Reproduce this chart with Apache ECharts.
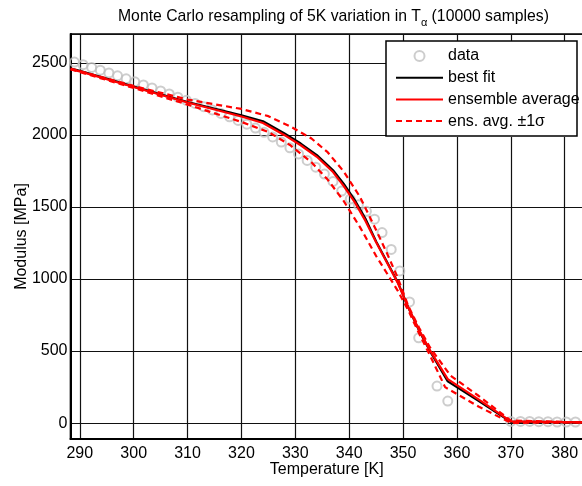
<!DOCTYPE html>
<html>
<head>
<meta charset="utf-8">
<script src="https://cdn.jsdelivr.net/npm/echarts@6/dist/echarts.min.js"></script>
<style>
  html, body { margin: 0; padding: 0; background: #fff; }
  #chart { width: 582px; height: 486px; }
</style>
</head>
<body>
<div id="chart"></div>
<script>
// measured modulus (circles)
var dataT = [289.0, 290.6, 292.2, 293.8, 295.4, 297.0, 298.6, 300.2, 301.8, 303.4,
             305.0, 306.6, 308.2, 309.8, 311.4, 313.0, 314.6, 316.2, 317.8, 319.4,
             321.0, 322.6, 324.2, 325.8, 327.4, 329.0, 330.6, 332.2, 333.8, 335.4,
             337.0, 338.6, 340.2, 341.7, 343.2, 344.7, 346.1, 347.8, 349.4, 351.2,
             352.9, 356.3, 358.3, 370.0, 371.8, 373.5, 375.2, 376.9, 378.6, 380.3, 382.0];
var dataV = [2505, 2487, 2468, 2449, 2430, 2410, 2389, 2368, 2347, 2326,
             2305, 2284, 2262, 2240, 2218, 2196, 2173, 2149, 2125, 2100,
             2074, 2047, 2018, 1986, 1950, 1910, 1868, 1823, 1776, 1728,
             1677, 1610, 1555, 1515, 1470, 1415, 1322, 1205, 1056, 841,
             592, 257, 153, 12, 12, 12, 10, 10, 8, 8, 8];

// best fit and ensemble average
var lineT = [288.3, 290, 300, 310, 320, 324, 328, 331, 334, 337, 339, 341, 343,
             345, 347, 349, 351, 353, 355, 358.3, 364, 370, 383.4];
var fitV  = [2460, 2445, 2335, 2228, 2135, 2095, 2010, 1940, 1860, 1755, 1660, 1550, 1420,
             1260, 1120, 980, 800, 640, 500, 290, 155, 10, 5];
var avgV  = [2455, 2441, 2332, 2225, 2128, 2082, 1998, 1928, 1848, 1742, 1645, 1535, 1405,
             1255, 1115, 975, 800, 645, 505, 305, 165, 12, 5];

// ensemble average +/- 1 sigma
var upT = [288.3, 300, 310, 320, 325, 329, 333, 336, 339, 342, 345, 347, 349, 351, 353, 355, 358.8, 364, 370, 383.4];
var upV = [2460, 2340, 2245, 2180, 2130, 2060, 1975, 1880, 1745, 1570, 1340, 1180, 1010, 810, 660, 525, 330, 190, 18, 5];
var loT = [288.3, 300, 310, 320, 325, 329, 333, 336, 339, 342, 345, 347, 349, 351, 353, 355, 357.8, 364, 370, 383.4];
var loV = [2455, 2325, 2210, 2090, 2020, 1930, 1810, 1690, 1540, 1360, 1160, 1040, 920, 780, 620, 470, 250, 115, 2, 5];

var legendNames = ['data', 'best fit', 'ensemble average', 'ens. avg. \u00b11\u03c3'];

function pairs(xs, ys){
    var out = [];
    for (var i = 0; i < xs.length; i++) out.push([xs[i], ys[i]]);
    return out;
}

var font = '"Liberation Sans", Arial, Helvetica, sans-serif';
var noDot = {color: 'rgba(0,0,0,0)', borderWidth: 0};
var myChart = echarts.init(document.getElementById('chart'), null, {renderer: 'canvas'});

var option = {
    animation: false,
    backgroundColor: '#fff',
    textStyle: {fontFamily: font, color: '#000'},
    title: {
        text: '{n|Monte Carlo resampling of 5K variation in T}{s|\u03b1}{n| (10000 samples)}',
        left: 113,
        top: 1,
        textStyle: {
            fontWeight: 'normal',
            rich: {
                n: {fontSize: 15.75, fontFamily: font, fontWeight: 'normal', color: '#000', lineHeight: 22, verticalAlign: 'middle'},
                s: {fontSize: 11, fontFamily: font, fontWeight: 'normal', color: '#000', lineHeight: 22, verticalAlign: 'bottom'}
            }
        }
    },
    legend: {
        orient: 'vertical',
        left: 386,
        top: 41,
        backgroundColor: '#fff',
        borderWidth: 0,
        padding: [7, 10, 8, 9],
        itemWidth: 47,
        itemHeight: 10,
        itemGap: 5.7,
        textStyle: {fontSize: 16, color: '#000', fontFamily: font, lineHeight: 16},
        data: legendNames
    },
    // frame of the legend box (text runs past it, as in the original)
    graphic: [{
        type: 'rect',
        z: 100,
        silent: true,
        shape: {x: 386, y: 41, width: 191, height: 95},
        style: {fill: 'none', stroke: '#000', lineWidth: 1.5}
    }],
    grid: {
        left: 70.5,
        right: -1,
        top: 34,
        bottom: 47,
        show: true,
        borderColor: '#000',
        borderWidth: 1.5,
        containLabel: false,
        outerBoundsMode: 'none'
    },
    xAxis: {
        type: 'value',
        min: 288.27,
        max: 383.4,
        splitNumber: 10,
        name: 'Temperature [K]',
        nameLocation: 'middle',
        nameGap: 23,
        nameMoveOverlap: false,
        nameTextStyle: {fontSize: 16, color: '#000', fontFamily: font},
        axisLine: {show: true, onZero: false, lineStyle: {color: '#000', width: 2}},
        axisTick: {show: false},
        axisLabel: {fontSize: 16, color: '#000', margin: 7, showMinLabel: false, showMaxLabel: false},
        splitLine: {show: true, lineStyle: {color: '#111', width: 1.2}}
    },
    yAxis: {
        type: 'value',
        min: -110,
        max: 2700,
        splitNumber: 5,
        name: 'Modulus [MPa]',
        nameLocation: 'middle',
        nameRotate: 90,
        nameGap: 41,
        nameMoveOverlap: false,
        nameTextStyle: {fontSize: 16, color: '#000', fontFamily: font},
        axisLine: {show: true, onZero: false, lineStyle: {color: '#000', width: 2}},
        axisTick: {show: false},
        axisLabel: {fontSize: 16, color: '#000', margin: 3, showMinLabel: false, showMaxLabel: false,
                    formatter: function(v){ return String(v); }},
        splitLine: {show: true, lineStyle: {color: '#111', width: 1.2}}
    },
    series: [
        {
            name: legendNames[0],
            type: 'scatter',
            symbol: 'circle',
            symbolSize: 9,
            itemStyle: {color: 'rgba(255,255,255,0)', borderColor: '#c0c0c0', borderWidth: 2},
            z: 1,
            data: pairs(dataT, dataV)
        },
        {
            name: legendNames[1],
            type: 'line',
            symbol: 'none',
            lineStyle: {color: '#000', width: 2.2},
            itemStyle: noDot,
            z: 2,
            data: pairs(lineT, fitV)
        },
        {
            name: legendNames[2],
            type: 'line',
            symbol: 'none',
            lineStyle: {color: '#ff0000', width: 2.2},
            itemStyle: noDot,
            z: 3,
            data: pairs(lineT, avgV)
        },
        {
            name: legendNames[3],
            type: 'line',
            symbol: 'none',
            lineStyle: {color: '#ff0000', width: 2.2, type: [6, 4]},
            itemStyle: noDot,
            z: 3,
            data: pairs(upT, upV)
        },
        {
            name: legendNames[3],
            type: 'line',
            symbol: 'none',
            lineStyle: {color: '#ff0000', width: 2.2, type: [6, 4]},
            itemStyle: noDot,
            z: 3,
            data: pairs(loT, loV)
        }
    ]
};
myChart.setOption(option);
</script>
</body>
</html>
